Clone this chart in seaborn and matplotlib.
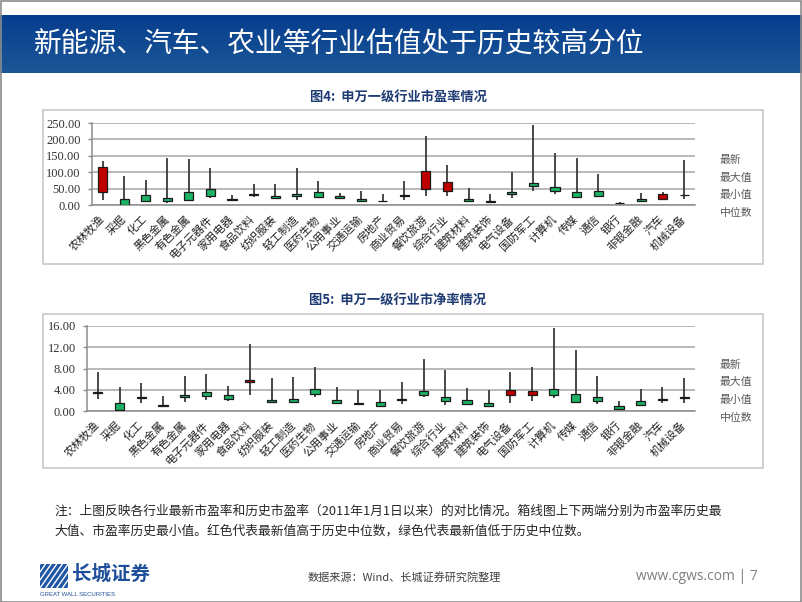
import numpy as np
import pandas as pd
import matplotlib
matplotlib.use('Agg')
import matplotlib.pyplot as plt
import seaborn as sns
from matplotlib.patches import Rectangle

categories = ['农林牧渔', '采掘', '化工', '黑色金属', '有色金属', '电子元器件', '家用电器',
              '食品饮料', '纺织服装', '轻工制造', '医药生物', '公用事业', '交通运输', '房地产',
              '商业贸易', '餐饮旅游', '综合行业', '建筑材料', '建筑装饰', '电气设备', '国防军工',
              '计算机', '传媒', '通信', '银行', '非银金融', '汽车', '机械设备']

pe_latest = [115, 1, 12, 11, 16, 28, 14, 31, 20, 26, 23, 22, 13, 11, 31, 104, 69, 11, 9, 33, 58, 43, 25, 28, 5, 12, 34, 29]
pe_median = [41, 18, 29, 22, 41, 48, 17, 33, 28, 35, 39, 27, 18, 13, 27, 48, 43, 19, 12, 40, 66, 55, 39, 42, 7, 19, 19, 32]
pe_max = [134, 88, 77, 144, 141, 114, 31, 64, 64, 114, 74, 37, 44, 34, 72, 209, 122, 51, 34, 100, 245, 159, 142, 94, 8, 38, 39, 136]
pe_min = [16, 0, 11, 6, 16, 22, 12, 24, 18, 15, 22, 18, 10, 9, 14, 26, 26, 10, 9, 22, 44, 34, 22, 27, 4, 11, 14, 18]

pb_latest = [3.3, 0.1, 2.4, 1.0, 2.7, 2.75, 2.25, 5.8, 1.65, 1.75, 3.15, 1.6, 1.4, 0.9, 2.1, 3.0, 1.8, 1.4, 0.85, 4.0, 3.7, 2.95, 1.7, 1.95, 0.45, 1.05, 2.15, 2.65]
pb_median = [3.5, 1.6, 2.6, 1.2, 3.1, 3.5, 3.0, 5.55, 2.0, 2.3, 4.2, 2.0, 1.6, 1.75, 2.3, 3.8, 2.7, 2.1, 1.5, 3.0, 3.1, 4.1, 3.2, 2.6, 1.0, 1.9, 2.35, 2.4]
pb_max = [7.3, 4.5, 5.3, 2.8, 6.5, 6.9, 4.8, 12.6, 6.2, 6.4, 8.25, 4.5, 3.95, 4.0, 5.5, 9.8, 7.7, 4.4, 3.9, 7.3, 8.3, 15.7, 11.5, 6.55, 1.8, 4.1, 4.45, 6.2]
pb_min = [2.35, 0.05, 1.6, 0.9, 1.7, 2.1, 1.8, 3.1, 1.5, 1.6, 2.6, 1.35, 1.2, 0.8, 1.25, 2.55, 1.2, 1.4, 0.8, 1.6, 1.9, 2.4, 1.65, 1.4, 0.3, 1.0, 1.45, 1.6]

legend_labels = ['最新', '最大值', '最小值', '中位数']

sns.set_theme(style='white')
CJK = ['Noto Sans CJK SC', 'DejaVu Sans']
plt.rcParams['font.family'] = CJK
plt.rcParams['axes.unicode_minus'] = False

W, H = 802, 602
fig = plt.figure(figsize=(W / 100, H / 100), dpi=100)
fig.patch.set_facecolor('white')


def fx(px):
    return px / W


def fy(py):
    return 1 - py / H


# slide border
fig.add_artist(Rectangle((0.5 / W, 0.5 / H), 1 - 1.5 / W, 1 - 1.5 / H, transform=fig.transFigure,
                         fill=False, edgecolor='#8c8c8c', lw=1.2, zorder=10))

# header band with gradient
axh = fig.add_axes([0, fy(73), 1, 58 / H])
grad = np.linspace(0, 1, 100).reshape(-1, 1)
cmap = matplotlib.colors.LinearSegmentedColormap.from_list('hb', ['#063d8e', '#1c5797'])
axh.imshow(grad, aspect='auto', cmap=cmap, extent=[0, 1, 0, 1])
axh.set_axis_off()
fig.text(fx(34), fy(45), '新能源、汽车、农业等行业估值处于历史较高分位', color='white',
         fontsize=20, va='center', ha='left', family=CJK)


def candle_panel(ax, latest, median, vmax, vmin, ymax, step):
    df = pd.DataFrame({'cat': categories, 'latest': latest, 'median': median,
                       'max': vmax, 'min': vmin})
    df['x'] = np.arange(len(df))
    df['low'] = df[['latest', 'median']].min(axis=1)
    df['h'] = (df['latest'] - df['median']).abs()
    df['color'] = np.where(df['latest'] > df['median'], '#c00000', '#1db364')
    ax.set_facecolor('white')
    ax.vlines(df['x'], df['min'], df['max'], color='#3a3a3a', lw=1.3, zorder=3)
    ax.bar(df['x'], df['h'], bottom=df['low'], width=0.42, color=df['color'],
           edgecolor='#1a1a1a', linewidth=0.9, zorder=4)
    ax.set_xlim(-0.5, len(df) - 0.5)
    ax.set_ylim(0, ymax)
    ticks = np.arange(0, ymax + step / 2, step)
    ax.set_yticks(ticks)
    ax.set_yticklabels([f'{t:.2f}' for t in ticks], family='Liberation Serif', fontsize=9,
                       color='#333333')
    ax.yaxis.grid(True, color='#a6a6a6', lw=1.1, zorder=0)
    ax.xaxis.grid(False)
    for s in ['top', 'right']:
        ax.spines[s].set_visible(False)
    for s in ['left', 'bottom']:
        ax.spines[s].set_color('#8c8c8c')
        ax.spines[s].set_linewidth(1.1)
    ax.set_xticks(df['x'])
    ax.set_xticklabels(df['cat'], rotation=45, ha='right', va='center', rotation_mode='anchor',
                       fontsize=8, color='#222222', family=CJK)
    ax.tick_params(axis='x', which='major', length=0, pad=9)
    ax.set_xticks(np.arange(-0.5, len(df), 1), minor=True)
    ax.tick_params(axis='x', which='minor', length=4, color='#8c8c8c', width=1, direction='out')
    ax.tick_params(axis='y', length=3, color='#8c8c8c', width=1, direction='out', pad=5,
                   left=True)
    ax.set_xlabel('')
    ax.set_ylabel('')


def frame(top, bottom):
    fig.add_artist(Rectangle((fx(43), fy(bottom)), fx(763) - fx(43), fy(top) - fy(bottom),
                             transform=fig.transFigure, fill=False, edgecolor='#c8c8c8', lw=1.2))


# Chart 1: PE
fig.text(fx(398), fy(97), '图4:  申万一级行业市盈率情况', ha='center', va='center',
         fontsize=9.5, fontweight='bold', color='#1f3b73', family=CJK)
frame(110, 264)
ax1 = fig.add_axes([fx(92), fy(205), fx(695) - fx(92), 82 / H])
candle_panel(ax1, pe_latest, pe_median, pe_max, pe_min, 250, 50)
for lab, yy in zip(legend_labels, [160, 178, 195, 213]):
    fig.text(fx(720), fy(yy), lab, ha='left', va='center', fontsize=7.8, color='#595959',
             family=CJK)

# Chart 2: PB
fig.text(fx(398), fy(300), '图5:  申万一级行业市净率情况', ha='center', va='center',
         fontsize=9.5, fontweight='bold', color='#1f3b73', family=CJK)
frame(314, 468)
ax2 = fig.add_axes([fx(87), fy(411), fx(695) - fx(87), 85 / H])
candle_panel(ax2, pb_latest, pb_median, pb_max, pb_min, 16, 4)
for lab, yy in zip(legend_labels, [365, 382, 400, 418]):
    fig.text(fx(720), fy(yy), lab, ha='left', va='center', fontsize=7.8, color='#595959',
             family=CJK)

# Note
fig.text(fx(54), fy(511), '注：上图反映各行业最新市盈率和历史市盈率（2011年1月1日以来）的对比情况。箱线图上下两端分别为市盈率历史最',
         ha='left', va='center', fontsize=9.2, color='#262626', family=CJK)
fig.text(fx(54), fy(531), '大值、市盈率历史最小值。红色代表最新值高于历史中位数，绿色代表最新值低于历史中位数。',
         ha='left', va='center', fontsize=9.2, color='#262626', family=CJK)

# Footer logo
axl = fig.add_axes([fx(40), fy(588), 28 / W, 24 / H])
axl.set_xlim(0, 1)
axl.set_ylim(0, 1)
axl.add_patch(Rectangle((0, 0), 1, 1, color='#1f55a5'))
for k in np.linspace(-0.6, 1.0, 9):
    axl.plot([k, k + 0.6], [0, 1], color='white', lw=1.0)
axl.set_axis_off()
fig.text(fx(72), fy(574), '长城证券', ha='left', va='center', fontsize=14, fontweight='bold',
         color='#1f4e9a', family=CJK)
fig.text(fx(40), fy(594), 'GREAT WALL SECURITIES', ha='left', va='center', fontsize=4.3,
         color='#1f4e9a', family=['Liberation Sans', 'DejaVu Sans'])
fig.text(fx(404), fy(577), '数据来源：Wind、长城证券研究院整理', ha='center', va='center',
         fontsize=8, color='#404040', family=CJK)
fig.text(fx(758), fy(577), 'www.cgws.com | 7', ha='right', va='center', fontsize=10,
         color='#7f7f7f', family=['Open Sans', 'DejaVu Sans'])

fig.savefig('out.png', dpi=100, facecolor='white')
